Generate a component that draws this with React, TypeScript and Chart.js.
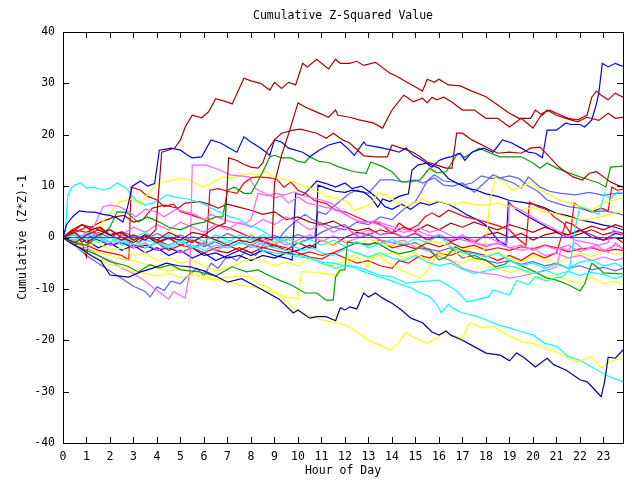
import React, { useEffect, useRef } from "react";
import { Chart, registerables } from "chart.js";

Chart.register(...registerables);

type P = [number, number][];

const X_MAX = 23.83;
const hourTicks = [0, 1, 2, 3, 4, 5, 6, 7, 8, 9, 10, 11, 12, 13, 14, 15, 16, 17, 18, 19, 20, 21, 22, 23];
const valueTicks = [-40, -30, -20, -10, 0, 10, 20, 30, 40];
const titleText = "Cumulative Z-Squared Value";
const xTitle = "Hour of Day";
const yTitle = "Cumulative (Z*Z)-1";

const DR = "#b00000", RD = "#ff0000", BL = "#0000ff", NV = "#0000a0", MB = "#6060ff";
const GR = "#00a000", YE = "#ffff00", MG = "#ff60ff", CY = "#00ffff", ZL = "#4040ff";

const zeroLine: P = [[0, 0], [X_MAX, 0]];

const sA: P = [[0,0],[0.5,-1],[1,0.5],[1.5,1.5],[2,0.5],[2.5,-0.5],[3,0.5],[3.5,-0.5],[3.95,1.5],[4.2,16.6],[4.75,17.4],[5.0,19],[5.2,21.5],[5.5,23.8],[5.9,23.3],[6.2,24.5],[6.5,27],[6.9,26.5],[7.2,26],[7.5,29],[7.7,31],[8.0,30.5],[8.4,30],[8.8,28.7],[9.0,30.2],[9.3,29],[9.6,30.2],[9.9,29.7],[10.2,33.9],[10.4,33.2],[10.8,34.7],[11.0,33.9],[11.3,32.8],[11.6,34.7],[11.8,33.9],[12.2,33.9],[12.5,34.3],[12.8,33.5],[13.3,34.1],[13.9,32],[14.2,31.4],[14.6,30.3],[15.0,29.3],[15.3,28.5],[15.5,30.8],[15.8,30.2],[16.0,30.8],[16.4,29.7],[16.9,29.5],[17.4,28.5],[18.0,27.4],[18.5,25.8],[19.0,24.2],[19.4,23.2],[19.9,23.2],[20.1,24.8],[20.4,23.8],[20.6,24.8],[21.0,23.8],[21.4,23.2],[21.9,22.5],[22.3,23.4],[22.8,22.8],[23.2,24.2],[23.5,23.2],[23.83,23.4]];
const sB: P = [[0,0],[0.5,1],[1,-1],[1.5,0.5],[2,1.5],[2.5,0],[3,-1],[3.5,0.5],[4,-0.5],[4.5,1],[5,0],[5.5,-1],[6,0.5],[6.5,-0.5],[7,-1.5],[7.5,-0.5],[8,-1],[8.5,0],[8.9,-0.5],[9.0,10.6],[9.3,16],[9.65,20.9],[10.0,26.2],[10.3,25.4],[10.8,24.4],[11.3,23.4],[11.6,24.8],[11.7,23.8],[12.2,23.4],[12.6,22.9],[13.2,22.3],[13.6,21.3],[14.0,24.8],[14.5,27.7],[14.7,27.1],[14.9,26.4],[15.3,27.1],[15.5,26.2],[15.7,27.3],[15.9,26.8],[16.2,27.3],[16.5,26.5],[17.0,24.8],[17.5,24.8],[18.0,23.2],[18.5,23.2],[19.0,21.5],[19.5,23.2],[20.0,21.3],[20.4,24.2],[20.7,24.8],[21.2,23.8],[21.5,23.2],[21.9,22.9],[22.3,23.8],[22.5,27.3],[22.7,28.5],[22.9,27.7],[23.2,26.8],[23.5,28.1],[23.83,27.3]];
const sC: P = [[0,0],[0.4,1.5],[0.8,2.5],[1.2,1.5],[1.6,2],[2,0.5],[2.5,1],[3,-0.5],[3.5,0.5],[4,-1],[4.5,0],[5,-0.5],[5.5,1],[6,0.5],[6.5,2],[6.9,2.8],[7.05,15.5],[7.4,15],[7.7,14.2],[8,13.7],[8.3,13.5],[8.5,14.5],[8.7,17],[9.0,19],[9.3,20.3],[9.8,20.9],[10.1,21.1],[10.8,20.3],[11.2,19.3],[11.5,20.3],[11.9,19],[12.2,18.4],[12.8,15.9],[13.3,15.7],[13.8,15.7],[14.0,18],[14.4,17.4],[14.9,16.6],[15.2,15.7],[15.5,14.7],[15.9,14.1],[16.3,13.5],[16.55,13.5],[16.75,20.3],[17.0,20.3],[17.4,19],[18.0,17.6],[18.5,16.4],[19.0,16.6],[19.5,16.4],[19.9,17.4],[20.3,17.6],[20.7,15.7],[21.1,13.7],[21.7,11.8],[22.1,11.2],[22.4,12.5],[22.7,12.8],[23.0,11.8],[23.3,10.8],[23.6,10.2],[23.83,9.8]];
const sD: P = [[0,0],[0.15,2.5],[0.4,4],[0.7,5.2],[1.0,5],[1.4,4.9],[1.7,4.5],[2.0,4.3],[2.3,3.8],[2.55,3],[2.75,6],[2.95,10],[3.3,11],[3.6,10],[3.9,10.5],[4.1,17],[4.6,17.4],[5.0,17],[5.3,16],[5.5,15.5],[5.9,15.7],[6.3,19],[6.7,18.4],[7.0,17.6],[7.4,16.6],[7.7,19.6],[8.0,18.6],[8.4,17.4],[8.8,16],[9.0,19],[9.3,18.6],[9.6,17.4],[10.2,16.6],[10.5,15.7],[10.9,17],[11.3,18],[11.8,18.6],[12.1,17.4],[12.4,16],[12.8,18.6],[12.9,18],[13.4,17.6],[14.0,17],[14.3,16.6],[14.6,17.4],[14.9,16],[15.3,15],[15.7,13.7],[16.0,15],[16.3,15.5],[16.5,15.7],[16.9,16.4],[17.1,15],[17.4,16.6],[17.9,17.4],[18.3,16.6],[18.7,19],[19.1,18.4],[19.5,17.4],[19.8,16.6],[20.1,16.4],[20.4,15.5],[20.6,20.9],[21.0,20.9],[21.4,22.3],[21.6,22],[22.0,22],[22.2,21.5],[22.5,22.9],[22.7,26],[22.8,28.1],[22.95,33.9],[23.2,33.2],[23.5,33.9],[23.83,33.3]];
const sE: P = [[0,0],[0.3,-1],[0.7,-2],[1.2,-3.5],[1.6,-4.5],[2.0,-7.3],[2.4,-7.5],[2.8,-7.7],[3.3,-6.7],[3.8,-6],[4.4,-5],[4.9,-5.5],[5.4,-5.7],[6.0,-6.5],[6.5,-7.5],[7.0,-8.7],[7.6,-8],[8.0,-9],[8.5,-10.2],[9.2,-12],[9.8,-14.7],[10.0,-14.1],[10.5,-15.7],[10.8,-15.4],[11.2,-15.4],[11.6,-16.2],[11.8,-13.7],[12.0,-14.1],[12.2,-13.5],[12.5,-13.9],[12.8,-10.8],[13.0,-11.6],[13.3,-10.8],[13.6,-11.8],[14.0,-12.8],[14.4,-14.1],[14.8,-15.7],[15.3,-16.6],[15.7,-18.4],[16.0,-19],[16.3,-18.2],[16.5,-19],[17.0,-20],[17.4,-21],[18.0,-22.5],[18.6,-22.9],[19.0,-24],[19.3,-22.5],[19.6,-23.3],[20.1,-25.2],[20.6,-23.5],[20.9,-24.8],[21.4,-25.8],[22.0,-27.7],[22.3,-28.1],[22.5,-29],[22.9,-31],[23.05,-28],[23.2,-23.3],[23.5,-23.5],[23.83,-21.9]];
const sF: P = [[0,0],[0.5,-1.5],[1,-3],[1.5,-4.5],[2,-5.3],[2.5,-5.8],[3,-6.7],[3.5,-7],[4,-7.5],[4.5,-7],[5,-7.8],[5.5,-7.3],[6,-8],[6.5,-8.3],[7,-7.7],[7.5,-7.5],[8,-7.7],[8.3,-9],[8.8,-9.8],[9.3,-11.6],[9.9,-14.1],[10.5,-15.3],[11,-16],[11.5,-16.5],[12,-17],[12.4,-18],[13,-20],[13.5,-21],[13.9,-21.9],[14.2,-21],[14.6,-18.4],[14.9,-19.4],[15.5,-20.6],[15.9,-19.6],[16.3,-18.4],[16.5,-19],[17.0,-19.6],[17.3,-16.6],[17.8,-17.5],[18.3,-17.3],[18.7,-18.4],[19.1,-19.4],[19.6,-20.4],[20.0,-20.6],[20.5,-21.5],[21.0,-22.3],[21.4,-23.2],[21.8,-24.2],[22.1,-23.9],[22.5,-23.2],[22.9,-25.4],[23.2,-24.4],[23.5,-23.8],[23.83,-23.5]];
const sG2: P = [[0,0],[0.5,0.5],[1,-0.5],[1.5,0.3],[2,-1],[2.5,0],[3,-1.5],[3.5,-0.5],[4,-1],[4.5,-2],[5,-1],[5.5,-1.5],[6,-2.5],[6.5,-1.5],[7,-2],[7.5,-1],[8,-1.5],[8.5,-2.5],[9,-3],[9.5,-3.2],[10,-3.8],[10.5,-4],[11,-4.8],[11.5,-5],[12,-5.5],[12.3,-5.7],[12.7,-6.5],[13,-7],[13.5,-7.7],[14,-8.5],[14.4,-9.2],[14.8,-9.8],[15.2,-10.8],[15.6,-11.5],[15.9,-13],[16.1,-14.7],[16.4,-13],[16.6,-13.8],[17.0,-14.7],[17.5,-15.2],[18,-16],[18.5,-17],[19,-17.6],[19.5,-18.3],[20,-19],[20.5,-20.6],[21,-21.2],[21.5,-23.2],[22,-23.9],[22.5,-25.2],[23.1,-26.8],[23.83,-28.1]];
const sG1: P = [[0,0],[0.5,-0.5],[1,0.8],[1.5,-0.3],[2,0.5],[2.5,-1],[3,0],[3.5,1],[4,-0.5],[4.5,0.5],[5,-1],[5.5,0.2],[6,-0.8],[6.5,0.5],[7,-0.5],[7.5,-1.2],[8,-0.3],[8.5,-1.5],[9,-2],[9.5,-2.5],[10,-3.4],[10.5,-4],[11,-5],[11.6,-6],[12,-5.4],[12.4,-5.6],[12.9,-6.3],[13.4,-7.3],[14.0,-7.6],[14.6,-8.9],[15.0,-8.7],[15.5,-8.5],[16.0,-8.3],[16.7,-10.2],[17.2,-12.5],[17.7,-12],[18.1,-11.6],[18.3,-10.2],[19.0,-11.2],[19.3,-8.3],[19.8,-9.2],[20.1,-7.7],[20.6,-8.5],[21.0,-7.7],[21.2,-7.9],[21.55,-6.3],[21.8,2],[22.0,5.9],[22.3,5.5],[22.8,4.5],[23.05,8.6],[23.3,7.5],[23.6,8.9],[23.83,8.6]];
const sK1: P = [[0,0],[0.1,1.1],[0.2,8],[0.35,9.6],[0.5,10.2],[0.75,10.6],[1.0,9.6],[1.3,9.8],[1.7,9.2],[2.0,9.6],[2.3,10.6],[2.7,9.6],[2.85,8.6],[3.1,7.3],[3.5,6.3],[3.8,6.7],[4.1,7.3],[4.4,8.3],[4.9,7.7],[5.3,7.5],[5.7,7],[6.0,6.5],[6.3,5.7],[6.8,4.7],[7.1,4],[7.5,3.5],[7.9,2.4],[8.2,2],[8.6,1],[8.9,0],[9.3,-0.5],[9.7,-1.5],[10.2,-2.5],[10.6,-2],[11,-3],[11.5,-3.5],[12,-2.2],[12.5,-3],[13,-3.8],[13.5,-3],[14,-4],[14.5,-4.5],[15,-3.5],[15.5,-4.8],[16,-5.5],[16.5,-5],[17,-6.2],[17.5,-7],[18,-6.5],[18.5,-6],[19,-5.5],[19.5,-6.2],[20,-7],[20.5,-6.3],[21,-7.2],[21.5,-6.6],[22,-7.4],[22.5,-6.8],[23,-7.2],[23.5,-8],[23.83,-7.5]];
const sK3: P = [[0,0],[0.5,-0.5],[1,0.5],[1.5,-1],[2,0],[2.5,-1.5],[3,-0.5],[3.5,-2],[4,-1],[4.5,-1.5],[5,-0.5],[5.5,-2],[6,-1.5],[6.5,-0.5],[7,-1],[7.5,0.5],[8,-0.5],[8.5,0.5],[9,-1],[9.5,0.3],[10,-1.2],[10.5,-0.4],[11,-1.5],[11.5,-0.5],[12,-1.8],[12.5,-0.8],[13,-2],[13.5,-1.2],[14,-0.4],[14.5,-1.3],[15,-0.2],[15.5,-1],[16,0.5],[16.5,-1.8],[17,-3],[17.5,-3.2],[18,-3.8],[18.5,-3],[19,-4.5],[19.5,-5.4],[20,-5],[20.5,-6],[21,-5.2],[21.5,-6],[22,-4.8],[22.5,-4.4],[23,-5.5],[23.5,-5],[23.83,-5.8]];
const sI: P = [[0,0],[0.5,-1],[1,-1.5],[1.5,0],[2,2],[2.3,5],[2.7,4.9],[3.2,3],[3.6,4],[4.1,3],[4.5,2],[5,1.5],[5.5,2.5],[6,3],[6.5,4],[6.8,4],[7.0,9.2],[7.3,9.8],[7.7,8.6],[8.0,8.6],[8.3,11],[8.6,13.7],[8.8,15.7],[9.0,16],[9.3,15.5],[9.7,15.5],[10,14.8],[10.3,14.6],[10.5,15.7],[10.9,14.8],[11.3,14.6],[11.7,13.8],[12.1,13.2],[12.4,12.8],[12.9,12.5],[13.1,14.7],[13.6,13.8],[14.0,12.8],[14.4,10.8],[14.8,10.8],[15.2,11.2],[15.6,13.5],[15.9,12.6],[16.3,12.8],[16.8,16.4],[17.1,15.6],[17.7,17.4],[18.0,16.8],[18.6,15.7],[19.0,15.7],[19.5,15.7],[20.0,14.5],[20.3,13.5],[20.6,14.5],[21.0,13.5],[21.4,12.8],[22.0,11.8],[22.4,11.2],[22.8,10.6],[23.1,9.8],[23.3,13.7],[23.83,13.9]];
const sJ: P = [[0,0],[0.5,-1.5],[1,-2.5],[1.5,-3.5],[2,-4.7],[2.7,-5.5],[3.2,-6.7],[3.7,-5.3],[4.1,-5.9],[4.6,-5.3],[5,-6.3],[5.8,-6.7],[6.5,-7.5],[7.2,-5.7],[7.8,-6.7],[8.3,-6.3],[8.8,-7.5],[9.3,-8.5],[9.7,-9.2],[10.3,-10.8],[10.8,-10.8],[11.2,-12.2],[11.5,-12.2],[11.6,-7.7],[11.8,-6.3],[12.0,-6.3],[12.1,-0.9],[12.5,-1.1],[13.0,-1.3],[13.4,-1.1],[13.9,-2.5],[14.3,-3.2],[14.8,-2.7],[15.2,-2],[15.6,-2.3],[16.0,-4.4],[16.3,-3.8],[16.7,-1.8],[17.1,-2.8],[17.5,-4],[18.0,-4.4],[18.4,-5.7],[18.8,-5.2],[19.0,-4.4],[19.5,-5.5],[20.0,-6.5],[20.6,-7.9],[21.0,-8.3],[21.5,-9.2],[22.0,-10.4],[22.2,-9],[22.5,-5],[22.8,-6],[23.0,-6.9],[23.4,-7],[23.83,-7.1]];
const sM1: P = [[0,0],[0.5,-1],[1,-2],[1.5,-3.5],[2,-4.5],[2.5,-6],[3,-7],[3.5,-8.5],[3.9,-10],[4.2,-11],[4.5,-12],[4.7,-10.5],[5.0,-11.3],[5.2,-11.8],[5.4,-6.5],[5.5,14.1],[6.1,14.1],[6.7,13.1],[7.1,12.2],[7.9,11.8],[8.2,9.5],[8.6,8.6],[9.0,7.7],[9.3,8.1],[9.6,6.7],[10.0,7.9],[10.4,6.7],[10.8,6.3],[11.2,5.8],[11.6,5.5],[12.0,4.5],[12.4,3.5],[12.8,3],[13.3,3.2],[13.8,2.4],[14.3,1.8],[14.8,1.3],[15.2,1.8],[15.6,1],[16.0,1.5],[16.5,0.4],[17.0,-0.5],[17.5,-1],[18.0,-1.5],[18.5,-1.2],[19,-2],[19.5,-2.5],[20,-2],[20.5,-3.5],[21,-3],[21.5,-4],[22,-3.5],[22.5,-4.5],[23,-3.8],[23.5,-4.5],[23.83,-4]];
const sM2: P = [[0,0],[0.5,1],[1,-0.5],[1.3,2],[1.7,6],[2.0,6.3],[2.4,6],[2.8,5],[3.1,4],[3.5,5.5],[4.0,5],[4.3,4],[4.8,5.5],[5.2,5],[5.6,4.5],[6,3.5],[6.3,4.5],[6.8,3.5],[7.2,3],[7.7,2.5],[8,3.5],[8.3,8.6],[8.7,8.1],[9.1,8.6],[9.4,8.2],[9.8,8.9],[10.2,8.2],[10.6,7.7],[11,7.3],[11.4,6.7],[11.7,5.7],[12.2,4],[12.6,3],[13.1,3],[13.5,2.4],[13.9,1.8],[14.5,1],[15,1.5],[15.5,0.5],[16,0],[16.5,-0.5],[17,0.5],[17.5,-1],[18,-1.8],[18.5,-1],[19,-2],[19.5,-1.5],[20,-2.5],[20.5,-1.6],[21,-2.3],[21.5,-1.5],[22,-2.8],[22.5,-1.8],[23,-2.6],[23.5,-1.5],[23.83,-2]];
const sM4: P = [[0,0],[0.5,0.5],[1,-1],[1.5,0],[2,-1.5],[2.5,-0.5],[3,-2],[3.5,-1],[4,-2.5],[4.5,-1.5],[5,-3],[5.5,-2],[6,-1],[6.5,-2.5],[7,-1.5],[7.5,-0.5],[8,-2],[8.5,-1],[9,-0.2],[9.5,-1.5],[10,-0.5],[10.5,0.5],[11,-0.8],[11.5,0.3],[12,-1],[12.5,-0.2],[13,0.8],[13.5,-0.5],[14,-1],[14.5,-0.5],[15,-2],[15.5,-2.5],[16,-3.7],[16.5,-4.5],[17,-6],[17.5,-6.7],[18,-7],[18.5,-7.3],[19,-7.9],[19.5,-7.5],[20,-7],[20.5,-6.5],[21,-5.7],[21.2,-2],[21.5,-2.5],[21.8,-1],[22.2,-2.5],[22.7,-1.5],[23.2,-3],[23.5,-1],[23.83,-2.3]];
const sM5: P = [[0,0],[0.5,-0.5],[1,1],[1.5,0.5],[2,1.5],[2.5,0.5],[3,2],[3.5,1],[4,2.5],[4.5,1.5],[5,3],[5.5,2],[6,1],[6.5,2.5],[7,1.5],[7.5,3],[8,2],[8.5,3.5],[9,2.5],[9.5,4],[10,3],[10.5,1.5],[11,2.5],[11.5,1],[12,2],[12.5,0.5],[13,1.5],[13.5,0.5],[14,1.2],[14.5,0],[15,1],[15.5,-0.3],[16,0.6],[16.5,-0.5],[17,0.3],[17.5,-0.6],[18,0.2],[18.5,-0.8],[18.9,-1],[19.0,6.5],[19.4,5.5],[19.8,4.5],[20.3,3],[20.8,2],[21.3,0.5],[21.8,-0.5],[22.3,-1],[22.8,-1.5],[23.2,-1],[23.4,1.5],[23.83,0.5]];
const sY2: P = [[0,0],[0.5,-1],[1,0.5],[1.5,2],[2.1,5.3],[2.4,6.9],[2.9,7.5],[3.3,6.5],[3.7,9],[4.0,10.6],[4.5,11],[5.0,11.6],[5.5,11],[5.9,9.8],[6.3,10.5],[6.8,11.8],[7.2,11.5],[7.6,12.2],[8.0,12.5],[8.3,12],[8.6,12.9],[8.9,12],[9.5,11.2],[9.9,10.6],[10.4,9.8],[10.9,8.8],[11.3,7.9],[11.7,7.5],[12.1,6.9],[12.4,5.3],[12.8,5.9],[13.1,6.5],[13.4,8.6],[13.8,8.1],[14.1,7.2],[14.5,5.9],[14.9,6.6],[15.3,7.6],[15.6,6.6],[15.9,7.2],[16.3,6.7],[16.6,6.3],[17,6.9],[17.6,6.4],[18,6.3],[18.5,6.7],[19,6],[19.5,5.4],[20,5.8],[20.5,5],[21,4.6],[21.5,3.9],[22,3.4],[22.5,3.6],[23,4.1],[23.5,4.8],[23.83,5.1]];
const sY3: P = [[0,0],[0.5,0.8],[1,-0.5],[1.5,0.5],[2,-1],[2.5,0.3],[3,-0.8],[3.5,0.6],[4,-0.3],[4.5,1],[5,0],[5.5,-1],[6,0.2],[6.5,-0.7],[7,0.5],[7.5,-0.5],[8,0.6],[8.5,-0.4],[9,-1.2],[9.5,-0.2],[10,-1],[10.5,0.4],[11,-0.6],[11.5,-1.5],[12,-0.5],[12.5,-1.2],[13,-0.3],[13.5,-1],[14,-1.6],[14.5,-0.8],[15,-1.5],[15.5,-0.6],[16,-1],[16.5,-1.8],[17,-2.4],[17.5,-2],[17.9,-2.5],[18.05,1.4],[18.15,6.7],[18.4,11.6],[18.8,10.8],[19.1,9.2],[19.5,9.8],[19.9,10.8],[20.3,9.2],[20.7,8.3],[21.1,7.3],[21.6,6.7],[22.1,5.9],[22.5,5.3],[23,6.7],[23.4,7.2],[23.83,7.7]];
const sY4: P = [[0,0],[0.5,-1],[1,-2],[1.5,-3],[2,-3.5],[2.5,-4.2],[3,-4.5],[3.5,-5.2],[4,-6],[4.5,-6.5],[5,-6],[5.5,-7],[6,-7.5],[6.5,-8.2],[7,-8.5],[7.5,-9.3],[8,-9.5],[8.5,-10.2],[9,-10.8],[9.5,-11.6],[10.0,-12],[10.15,-6.7],[10.5,-6.7],[11,-7],[11.6,-7.3],[11.8,-5.7],[12.2,-4.8],[12.5,-3.8],[13,-5.7],[13.3,-3],[13.8,-4.8],[14.2,-5.8],[14.7,-7],[15.2,-7.9],[15.6,-5.7],[16,-3],[16.5,-4.5],[17,-5],[17.5,-4],[18,-5.5],[18.5,-6],[19,-6.8],[19.5,-6.3],[20,-7.5],[20.5,-8],[21,-7.3],[21.5,-8.4],[22,-8.8],[22.5,-7.8],[23,-9],[23.5,-8.5],[23.83,-9.2]];
const sY5: P = [[0,0],[0.5,-0.5],[1,-1.5],[1.5,-1],[2,-2.5],[2.5,-2],[3,-3.5],[3.5,-3],[4,-4.5],[4.5,-4],[5,-5],[5.5,-4.5],[6,-5.5],[6.5,-6.5],[7,-6],[7.5,-5],[8,-4],[8.5,-4.5],[9,-5.5],[9.5,-4.8],[10,-5.5],[10.5,-4],[11,-5],[11.5,-5.5],[12,-4.5],[12.5,-3],[13,-4],[13.5,-3.5],[14,-2.8],[14.5,-4],[15,-3],[15.5,-4.5],[16,-3.5],[16.5,-2.5],[17,-3.5],[17.5,-4.5],[18,-3.5],[18.5,-2.8],[19,-4],[19.5,-4.8],[20,-3.5],[20.5,-4.2],[21,-5],[21.5,-4],[22,-3],[22.5,-3.8],[23,-2.5],[23.5,-3.3],[23.83,-3]];
const sR1: P = [[0,0],[0.5,1.5],[1,1],[1.5,2],[2,0.5],[2.5,1],[3,-0.5],[3.5,0.5],[4,-1],[4.5,0],[5,-1.5],[5.5,-0.5],[6.1,-1.5],[6.25,9.2],[6.6,9.5],[7.0,9],[7.4,8.6],[7.7,10.6],[8.0,11.6],[8.3,11.8],[8.8,11.6],[9.1,11.3],[9.4,9.8],[9.7,10.8],[10.0,9.2],[10.3,8.6],[10.7,7.2],[11.2,6.6],[11.6,5.3],[12,5],[12.5,4],[13,3],[13.4,2.8],[13.7,2],[14,0.8],[14.3,2.8],[14.7,1.5],[15.1,2.4],[15.4,4],[15.7,4.8],[16,4],[16.4,5.3],[16.8,4.6],[17.1,4],[17.6,3.5],[18,3],[18.5,2.3],[19,1.5],[19.3,0],[19.7,-1.5],[19.85,6.9],[20.2,6],[20.6,5.4],[20.9,4],[21.3,2.8],[21.6,0.8],[21.75,6.7],[22.1,5.7],[22.5,5],[22.9,5.7],[23.2,5.2],[23.35,9.8],[23.6,9.2],[23.83,9.4]];
const sR5: P = [[0,0],[0.5,-1],[1,-1.5],[1.5,-2.5],[2,-3],[2.5,-3.5],[2.8,-4.4],[2.9,9.8],[3.3,9.2],[3.6,8],[4,7.3],[4.3,6],[4.7,6.5],[5,5],[5.5,4.3],[6,3.5],[6.5,2.5],[7,2],[7.5,1],[8,0],[8.5,-0.8],[9,-1.5],[9.5,-2],[10,-3],[10.5,-3.8],[11,-4.2],[11.5,-3],[12,-4],[12.5,-5],[13,-4.5],[13.5,-5.5],[14,-6],[14.3,-4.5],[14.7,-5],[15.2,-3.5],[15.6,-4],[16,-3],[16.5,-3.5],[17,-2.5],[17.5,-3],[18,-3.5],[18.5,-4.5],[19,-3.5],[19.5,-4.5],[20,-3],[20.5,-4],[21,-3],[21.4,3],[21.7,2.5],[22,1.5],[22.5,0.5],[23,-0.5],[23.5,0],[23.83,-1]];
const sR6: P = [[0,0],[0.5,1],[1,2],[1.5,0.5],[2,-1],[2.5,0.5],[3,-1.5],[3.5,-2],[4,-1],[4.5,-2.5],[5,-1.5],[5.5,-2],[6,-3],[6.5,-2],[7,-1.5],[7.5,-2.5],[8,-1.5],[8.5,-2],[9,-2.5],[9.5,-3],[10,-3.4],[10.5,-2.8],[11,-3.5],[11.5,-3],[12,-2],[12.5,-1],[13,-1.5],[13.5,-0.5],[14,-2],[14.5,-1.5],[15,-2.2],[15.5,-1],[16,-1.8],[16.5,-1],[17,-2],[17.5,-1.5],[18,-2.5],[18.5,-2],[19,-2.5],[19.5,-1.8],[20,-2.2],[20.5,-1.5],[21,-2],[21.5,-2.8],[22,-2.2],[22.5,-2],[23,-2.7],[23.5,-2.3],[23.83,-2.5]];
const sDR4: P = [[0,0],[0.4,1.5],[0.8,-1],[1.0,-3.8],[1.15,2],[1.5,1.5],[2,0.5],[2.4,1],[2.8,0],[3.2,-1],[3.6,0.5],[4,-0.5],[4.5,-1.5],[5,-0.5],[5.5,-2],[6,-1],[6.5,-2.5],[7,-3],[7.5,-2],[8,-3],[8.5,-2],[9,-1.5],[9.5,-2.5],[10,-1],[10.5,-2],[11,-0.5],[11.5,-1.5],[12,0],[12.5,1],[13,0.5],[13.5,1.5],[14,0.8],[14.5,2],[15,1.2],[15.5,2.5],[16,1.5],[16.5,2.8],[17,2],[17.5,3],[18,2.2],[18.5,1.5],[19,2.5],[19.5,1.8],[20,1],[20.5,2],[21,1.2],[21.5,0.5],[22,1.3],[22.5,2.2],[23,1.5],[23.5,2.5],[23.83,2]];
const sDR5: P = [[0,0],[0.4,1],[0.8,2.5],[1.2,2],[1.6,3],[2.2,4],[2.6,4.3],[3.0,3],[3.4,3.5],[3.8,5.7],[4.3,6.3],[4.9,5.7],[5.2,6.7],[5.8,7],[6.2,6.5],[6.6,5.7],[7.0,6.5],[7.4,6],[8,5.3],[8.5,4.5],[9,5],[9.5,3.5],[10,4],[10.5,3],[11,2.5],[11.5,3.2],[12,2],[12.5,1.3],[13,1.8],[13.5,0.5],[14,1],[14.5,0],[15,0.8],[15.5,-0.5],[16,0.3],[16.5,-0.8],[17,0],[17.5,-1],[18,0.5],[18.5,1],[19,0],[19.5,0.8],[20,-0.5],[20.5,0.5],[21,1],[21.5,0],[22,0.7],[22.5,1.5],[23,0.5],[23.5,1.2],[23.83,0.8]];
const sNV2: P = [[0,0],[0.5,-1],[1,0.5],[1.5,-0.5],[2,-1.5],[2.5,-1],[3,-2],[3.5,-1.5],[4,-2.5],[4.5,-2],[5,-3],[5.5,-2],[6,-3.5],[6.5,-3],[7,-4],[7.5,-3.5],[8,-4.5],[8.5,-3.5],[9,-4],[9.5,-3],[10,-2.5],[10.5,-1.5],[10.75,-2],[10.85,10.2],[11.2,9.6],[11.6,9],[12,8.8],[12.3,9.2],[12.8,8.8],[13.1,7.8],[13.4,5.9],[13.6,7.5],[13.9,7],[14.3,8],[14.7,8.5],[14.85,13.1],[15.1,14.1],[15.5,14.5],[16.0,13.5],[16.4,11.5],[16.8,10.5],[17.2,9.6],[17.6,9.2],[18.0,8.5],[18.5,8],[19,7.2],[19.5,6.9],[20,6.5],[20.5,5.8],[21,4.7],[21.5,4.2],[22,3.4],[22.5,3],[23,2.4],[23.5,2],[23.83,1.5]];
const sB2: P = [[0,0],[0.5,-1.5],[1,-0.5],[1.5,-2],[2,-1],[2.5,-2.5],[3,-1.5],[3.5,-3],[4,-2],[4.5,-3.5],[5,-2.5],[5.5,-4],[6,-3],[6.5,-4.5],[7,-3.5],[7.5,-2.5],[8,-3.5],[8.5,-2.5],[9,-3.5],[9.5,-4],[9.75,-4.4],[9.9,8.6],[10.2,8.2],[10.5,9.5],[10.8,11],[11.2,10.5],[11.6,9.8],[12,10.6],[12.3,9.5],[12.7,10],[13.0,9],[13.3,8],[13.7,6],[14,5.5],[14.4,6.5],[14.8,5.5],[15.2,6.8],[15.6,6.3],[16,7],[16.4,6.5],[16.8,5.5],[17.2,4.4],[17.6,3.5],[18,2.4],[18.5,-0.5],[18.85,-1.5],[18.95,6.9],[19.3,5.4],[19.7,4.3],[20.2,3],[20.6,2],[21.1,0.8],[21.5,0.5],[22,1.5],[22.5,0],[23,-0.5],[23.5,0.8],[23.83,0.5]];
const sMB1: P = [[0,0],[0.5,0.8],[1,-0.5],[1.5,0.5],[2,-1],[2.5,0.2],[3,-0.8],[3.5,0.5],[4,-1.2],[4.5,-0.2],[5,-1.5],[5.5,-0.5],[6,-1.8],[6.5,-0.8],[7,-2],[7.5,-1],[8,-1.5],[8.5,-0.5],[9,-1.3],[9.5,-0.3],[10,-1],[10.7,0],[10.85,5],[11.2,4.5],[11.5,6],[11.9,7.5],[12.2,8.6],[12.5,9.2],[13,8.6],[13.5,11.2],[14,11.2],[14.5,10.8],[15,11.2],[15.3,10.6],[15.8,11.6],[16.2,10.2],[16.6,10],[17,10.6],[17.5,8.8],[18.3,12.2],[18.6,11.6],[19.2,10.5],[19.5,9.6],[19.8,11.8],[20.3,9.8],[20.7,9],[21.2,8.6],[21.8,8.3],[22.4,8.8],[23,8.2],[23.5,8.6],[23.83,8.6]];
const sMB2: P = [[0,0],[0.5,0.5],[1,-0.5],[1.5,1],[2,0],[2.5,1.2],[3,0.2],[3.5,-0.5],[4,0.8],[4.5,-0.3],[5,0.5],[5.5,-0.8],[6,0.3],[6.5,-0.5],[7,0.8],[7.5,-0.2],[8,0.5],[8.5,-0.6],[9,0.4],[9.5,-0.5],[10,0.6],[10.5,-0.3],[11,1],[11.5,2],[12,1.5],[12.5,3],[13,2.5],[13.5,4],[14,3.5],[14.5,5.5],[15,7],[15.5,11],[15.8,12.2],[16.2,11],[16.6,10.8],[17,10.2],[17.4,10.6],[17.8,12],[18.2,11.5],[18.6,11.6],[19,12],[19.4,11.5],[19.8,10],[20.2,9],[20.6,7.3],[21,6.7],[21.5,6],[22,5.7],[22.5,5],[23,5.2],[23.5,4.8],[23.83,4.4]];
const sMB3: P = [[0,0],[0.5,-1.5],[1,-3.5],[1.5,-5],[2,-6.5],[2.5,-8],[3,-9.5],[3.5,-10.5],[3.7,-11.6],[4.0,-9.6],[4.3,-10.3],[4.6,-8.5],[5.0,-9],[5.3,-7.5],[5.7,-6],[6.0,-7.5],[6.3,-5],[6.6,-6],[7,-3.5],[7.4,-4.5],[7.8,-2.5],[8.2,-3.5],[8.6,-1],[9,-2],[9.3,0.5],[9.6,2],[10,3.5],[10.3,4.5],[10.6,3.5],[11,2.8],[11.5,2],[12,2.5],[12.3,1],[12.6,0],[13,0.5],[13.5,-0.5],[14,-1],[14.5,-1.5],[15,-1],[15.5,-2.2],[16,-2.7],[16.5,-2],[17,-4],[17.5,-3.5],[18,-4.5],[18.5,-5],[19,-4.5],[19.5,-5.2],[20,-4.7],[20.5,-5.5],[21,-5],[21.5,-6],[22,-5.5],[22.5,-6.3],[23,-5.8],[23.5,-6.5],[23.83,-6]];

const seriesList: { pts: P; color: string }[] = [
  { pts: zeroLine, color: ZL },
  { pts: sA, color: DR }, { pts: sB, color: DR }, { pts: sC, color: DR },
  { pts: sD, color: BL }, { pts: sE, color: NV }, { pts: sF, color: YE },
  { pts: sG2, color: CY }, { pts: sG1, color: CY }, { pts: sK1, color: CY }, { pts: sK3, color: CY },
  { pts: sI, color: GR }, { pts: sJ, color: GR },
  { pts: sM1, color: MG }, { pts: sM2, color: MG }, { pts: sM4, color: MG }, { pts: sM5, color: MG },
  { pts: sY2, color: YE }, { pts: sY3, color: YE }, { pts: sY4, color: YE }, { pts: sY5, color: YE },
  { pts: sR1, color: RD }, { pts: sR5, color: RD }, { pts: sR6, color: RD },
  { pts: sDR4, color: DR }, { pts: sDR5, color: DR },
  { pts: sNV2, color: NV }, { pts: sB2, color: BL },
  { pts: sMB1, color: MB }, { pts: sMB2, color: MB }, { pts: sMB3, color: MB },
];

const FONT = "DejaVu Sans Mono";
const FSIZE = 11.5;

const framePlugin = {
  id: "frame",
  afterDraw(chart: any) {
    const { ctx, chartArea, scales } = chart;
    const { left, right, top, bottom } = chartArea;
    const xs = scales.x, ys = scales.y;
    ctx.save();
    ctx.strokeStyle = "#000";
    ctx.lineWidth = 1;
    ctx.strokeRect(Math.round(left) + 0.5, Math.round(top) + 0.5, Math.round(right - left), Math.round(bottom - top));
    ctx.beginPath();
    for (const h of hourTicks) {
      const px = Math.round(xs.getPixelForValue(h)) + 0.5;
      ctx.moveTo(px, bottom); ctx.lineTo(px, bottom - 6);
      ctx.moveTo(px, top); ctx.lineTo(px, top + 6);
    }
    for (const v of valueTicks) {
      const py = Math.round(ys.getPixelForValue(v)) + 0.5;
      ctx.moveTo(left, py); ctx.lineTo(left + 6, py);
      ctx.moveTo(right, py); ctx.lineTo(right - 6, py);
    }
    ctx.stroke();
    ctx.fillStyle = "#000";
    ctx.font = `${FSIZE}px "${FONT}"`;
    ctx.textAlign = "center";
    ctx.textBaseline = "middle";
    ctx.fillText(titleText, (left + right) / 2, 16);
    ctx.fillText(xTitle, (left + right) / 2, 471);
    ctx.translate(23, (top + bottom) / 2);
    ctx.rotate(-Math.PI / 2);
    ctx.fillText(yTitle, 0, 0);
    ctx.restore();
  },
};

export default function App() {
  const ref = useRef<HTMLCanvasElement | null>(null);
  useEffect(() => {
    if (!ref.current) return;
    const chart = new Chart(ref.current, {
      type: "line",
      data: {
        datasets: seriesList.map((s, i) => ({
          label: "s" + i,
          data: s.pts.map(([x, y]) => ({ x, y })),
          borderColor: s.color,
          backgroundColor: s.color,
          borderWidth: 1.2,
          pointRadius: 0,
          tension: 0,
          fill: false,
          order: i === 0 ? 0 : 1,
        })),
      },
      options: {
        responsive: false,
        animation: false,
        events: [],
        layout: { padding: { top: 32, right: 17, left: 0, bottom: 0 } },
        plugins: { legend: { display: false }, title: { display: false }, tooltip: { enabled: false } },
        scales: {
          x: {
            type: "linear",
            min: 0,
            max: X_MAX,
            border: { display: false },
            grid: { display: false, drawTicks: false },
            afterFit: (s: any) => { s.height = 37; },
            afterBuildTicks: (s: any) => { s.ticks = hourTicks.map((v) => ({ value: v })); },
            ticks: { includeBounds: false, stepSize: 1, padding: 7, color: "#000", font: { family: FONT, size: FSIZE }, maxRotation: 0, autoSkip: false },
          },
          y: {
            type: "linear",
            min: -40,
            max: 40,
            border: { display: false },
            grid: { display: false, drawTicks: false },
            afterFit: (s: any) => { s.width = 63; },
            afterBuildTicks: (s: any) => { s.ticks = valueTicks.map((v) => ({ value: v })); },
            ticks: { stepSize: 10, padding: 8, color: "#000", font: { family: FONT, size: FSIZE } },
          },
        },
      },
      plugins: [framePlugin],
    });
    return () => chart.destroy();
  }, []);
  return (
    <div style={{ position: "fixed", left: 0, top: 0, width: 640, height: 480, background: "#fff" }}>
      <canvas ref={ref} width={640} height={480} style={{ width: 640, height: 480 }} />
    </div>
  );
}
